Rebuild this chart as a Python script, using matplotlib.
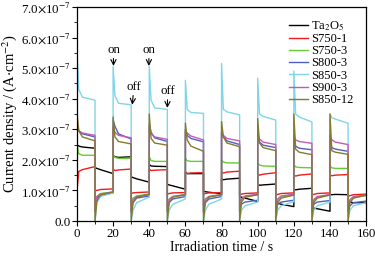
import matplotlib
matplotlib.use("Agg")
import matplotlib.pyplot as plt
from matplotlib.ticker import MultipleLocator, FuncFormatter

plt.rcParams['font.family'] = ['Liberation Serif', 'DejaVu Serif']
plt.rcParams['mathtext.fontset'] = 'stix'

# ---- data (units of 1e-7 A/cm^2) ----
# light on: 0-10, 20-30, ... ; light off: 10-20, 30-40, ...
on_starts = [0, 20, 40, 60, 80, 100, 120, 140]
off_starts = [10, 30, 50, 70, 90, 110, 130, 150]
seg_offsets = [0, 1, 3, 10]   # seconds into each segment for the values below

series_names = ["Ta$_2$O$_5$", "S750-1", "S750-3", "S800-3", "S850-3", "S900-3", "S850-12"]
series_colors = ["#000000", "#ee1c1c", "#66cc33", "#4f5fbf", "#7fd6e8", "#c45ab4", "#857a2c"]

# each entry: [value at segment start (spike/drop), +1 s, +3 s, end]
ta2o5_on = [[2.50, 2.45, 2.42, 2.38], [2.15, 2.10, 2.08, 2.10], [1.85, 1.80, 1.79, 1.78],
            [1.60, 1.55, 1.55, 1.55], [1.38, 1.35, 1.37, 1.40], [1.20, 1.17, 1.18, 1.21],
            [1.03, 1.02, 1.04, 1.07], [0.87, 0.86, 0.87, 0.86]]
ta2o5_off = [[1.75, 1.72, 1.68, 1.55], [1.45, 1.42, 1.38, 1.27], [1.20, 1.18, 1.15, 1.04],
             [0.97, 0.96, 0.94, 0.90], [0.80, 0.78, 0.75, 0.64], [0.60, 0.58, 0.55, 0.47],
             [0.43, 0.42, 0.40, 0.32], [0.62, 0.62, 0.60, 0.60]]

s750_1_on = [[1.00, 1.62, 1.68, 1.78], [1.70, 1.65, 1.67, 1.70], [1.70, 1.65, 1.66, 1.68],
             [1.60, 1.55, 1.57, 1.58], [1.60, 1.57, 1.60, 1.63], [1.55, 1.50, 1.53, 1.58],
             [1.50, 1.47, 1.50, 1.54], [1.50, 1.48, 1.50, 1.52]]
s750_1_off = [[1.00, 1.00, 1.03, 1.05], [0.90, 0.92, 0.93, 0.95], [0.88, 0.90, 0.92, 0.93],
              [0.88, 0.90, 0.92, 0.93], [0.85, 0.88, 0.90, 0.92], [0.85, 0.87, 0.90, 0.92],
              [0.85, 0.87, 0.90, 0.92], [0.80, 0.83, 0.86, 0.88]]

s750_3_on = [[2.50, 2.20, 2.15, 2.15], [2.20, 2.08, 2.05, 2.05], [2.10, 1.98, 1.95, 1.95],
             [2.05, 1.97, 1.95, 1.95], [2.00, 1.93, 1.90, 1.90], [1.90, 1.83, 1.80, 1.79],
             [1.85, 1.77, 1.75, 1.74], [1.80, 1.74, 1.72, 1.72]]
s750_3_off = [[0.50, 0.80, 0.90, 0.95], [0.50, 0.75, 0.82, 0.88], [0.50, 0.72, 0.80, 0.87],
              [0.50, 0.72, 0.80, 0.87], [0.50, 0.70, 0.80, 0.86], [0.45, 0.68, 0.78, 0.85],
              [0.45, 0.68, 0.78, 0.85], [0.45, 0.66, 0.76, 0.83]]

s800_3_on = [[3.10, 2.95, 2.85, 2.75], [3.30, 3.10, 2.85, 2.68], [3.20, 2.90, 2.72, 2.60],
             [3.00, 2.80, 2.70, 2.59], [2.90, 2.75, 2.62, 2.50], [2.75, 2.58, 2.48, 2.40],
             [2.60, 2.45, 2.38, 2.33], [2.55, 2.40, 2.35, 2.28]]
s800_3_off = [[0.30, 0.75, 0.85, 0.92], [0.30, 0.60, 0.75, 0.82], [0.30, 0.60, 0.72, 0.80],
              [0.30, 0.60, 0.72, 0.80], [0.30, 0.55, 0.62, 0.68], [0.30, 0.55, 0.62, 0.68],
              [0.30, 0.55, 0.62, 0.67], [0.30, 0.50, 0.60, 0.65]]

s850_3_on = [[5.60, 4.30, 4.05, 3.95], [5.05, 4.10, 3.85, 3.80], [5.05, 3.95, 3.70, 3.65],
             [4.60, 3.65, 3.55, 3.52], [5.15, 3.65, 3.57, 3.47], [4.67, 3.50, 3.42, 3.30],
             [4.90, 3.50, 3.40, 3.24], [3.50, 3.38, 3.33, 3.20]]
s850_3_off = [[0.00, 0.60, 0.80, 0.92], [0.00, 0.35, 0.60, 0.78], [0.00, 0.35, 0.55, 0.72],
              [0.00, 0.35, 0.55, 0.72], [0.00, 0.35, 0.50, 0.62], [0.00, 0.35, 0.50, 0.63],
              [0.00, 0.35, 0.50, 0.62], [0.00, 0.35, 0.50, 0.60]]

s900_3_on = [[3.20, 2.95, 2.88, 2.80], [3.10, 2.90, 2.80, 2.72], [3.10, 2.85, 2.75, 2.67],
             [2.95, 2.88, 2.78, 2.65], [2.90, 2.80, 2.70, 2.62], [2.85, 2.68, 2.58, 2.50],
             [2.80, 2.65, 2.60, 2.54], [2.80, 2.65, 2.58, 2.50]]
s900_3_off = [[0.30, 0.80, 0.88, 0.95], [0.30, 0.70, 0.80, 0.86], [0.30, 0.70, 0.80, 0.86],
              [0.30, 0.70, 0.80, 0.86], [0.30, 0.72, 0.82, 0.88], [0.30, 0.72, 0.82, 0.88],
              [0.30, 0.70, 0.80, 0.87], [0.30, 0.70, 0.80, 0.85]]

s850_12_on = [[3.55, 2.95, 2.75, 2.62], [3.40, 2.75, 2.60, 2.52], [3.50, 2.70, 2.55, 2.48],
              [3.20, 2.65, 2.45, 2.28], [3.25, 2.75, 2.55, 2.43], [3.35, 2.55, 2.40, 2.30],
              [3.50, 2.35, 2.25, 2.17], [3.50, 2.30, 2.25, 2.18]]
s850_12_off = [[0.00, 0.65, 0.85, 0.95], [0.00, 0.60, 0.78, 0.88], [0.00, 0.60, 0.78, 0.86],
               [0.00, 0.60, 0.78, 0.86], [0.00, 0.62, 0.78, 0.86], [0.00, 0.60, 0.75, 0.85],
               [0.00, 0.60, 0.75, 0.85], [0.00, 0.60, 0.75, 0.85]]

series_on = [ta2o5_on, s750_1_on, s750_3_on, s800_3_on, s850_3_on, s900_3_on, s850_12_on]
series_off = [ta2o5_off, s750_1_off, s750_3_off, s800_3_off, s850_3_off, s900_3_off, s850_12_off]


def build(on, off):
    segs = []
    for i in range(len(on_starts)):
        segs.append((on_starts[i], on[i]))
        segs.append((off_starts[i], off[i]))
    t, v = [], []
    for t0, vals in segs:
        for dt, val in zip(seg_offsets, vals):
            t.append(t0 + dt)
            v.append(val * 1e-7)
    return t, v


fig = plt.figure(figsize=(3.81, 2.57), dpi=100)
ax = fig.add_axes([0.202, 0.140, 0.759, 0.833])

for name, color, on, off in zip(series_names, series_colors, series_on, series_off):
    t, v = build(on, off)
    ax.plot(t, v, color=color, lw=1.0, label=name)

ax.set_xlim(0, 160)
ax.set_ylim(0, 7e-7)
ax.xaxis.set_major_locator(MultipleLocator(20))
ax.xaxis.set_minor_locator(MultipleLocator(10))
ax.yaxis.set_major_locator(MultipleLocator(1e-7))
ax.yaxis.set_minor_locator(MultipleLocator(0.5e-7))


def yfmt(val, pos):
    m = val / 1e-7
    if abs(m) < 1e-9:
        return "0.0"
    return r"%.1f$\times$10$^{-7}$" % m


ax.yaxis.set_major_formatter(FuncFormatter(yfmt))
ax.tick_params(which='major', direction='out', length=3.5, width=0.8, labelsize=9.3, pad=1.2)
ax.tick_params(which='minor', direction='out', length=2, width=0.6)
for sp in ax.spines.values():
    sp.set_linewidth(0.9)

ax.set_xlabel("Irradiation time / s", fontsize=10, labelpad=1)
ax.set_ylabel("Current density / (A$\\cdot$cm$^{-2}$)", fontsize=10.5, labelpad=1)

arrow = dict(arrowstyle='->', lw=0.8, color='black', shrinkA=0, shrinkB=0)
ax.annotate("on", xy=(20.2, 5.07e-7), xytext=(20.2, 5.6e-7), ha='center', va='center',
            fontsize=9.3, arrowprops=arrow)
ax.annotate("on", xy=(39.8, 5.07e-7), xytext=(39.8, 5.6e-7), ha='center', va='center',
            fontsize=9.3, arrowprops=arrow)
ax.annotate("off", xy=(30.6, 3.8e-7), xytext=(31.5, 4.39e-7), ha='center', va='center',
            fontsize=9.3, arrowprops=arrow)
ax.annotate("off", xy=(50.0, 3.7e-7), xytext=(50.2, 4.25e-7), ha='center', va='center',
            fontsize=9.3, arrowprops=arrow)

ax.legend(loc='upper right', frameon=False, fontsize=9, handlelength=1.5,
          handletextpad=0.25, labelspacing=0.02, borderaxespad=0.3,
          bbox_to_anchor=(0.985, 0.985))

fig.savefig("out.png", dpi=100)
